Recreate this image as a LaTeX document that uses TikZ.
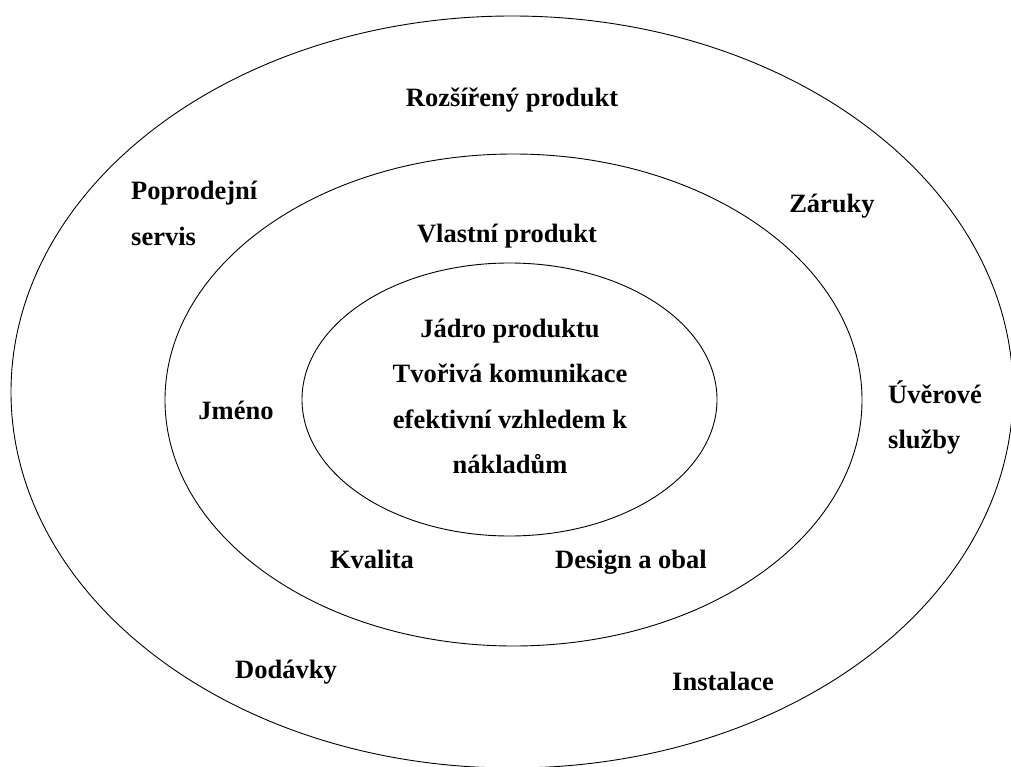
\documentclass[tikz,border=0pt]{standalone}
\usepackage{fontspec}
\setmainfont{Liberation Serif}
\usetikzlibrary{shapes.geometric}
\begin{document}
\begin{tikzpicture}[x=1pt,y=-1pt,
  ring/.style={ellipse,draw=black,line width=0.9pt,inner sep=0pt},
  lbl/.style={anchor=base,inner sep=0pt,font=\fontsize{26.5}{32}\selectfont\bfseries},
  lblw/.style={lbl,anchor=base west}]
\useasboundingbox (0,0) rectangle (1011,767);
% three nested product levels
\node[ring,minimum width=1002pt,minimum height=752pt] (outer) at (512,392) {};
\node[ring,minimum width=697pt,minimum height=492pt] (middle) at (513.5,400) {};
\node[ring,minimum width=415pt,minimum height=273pt] (inner) at (509.5,399.5) {};
% outer ring
\node[lbl] (rozsireny) at (512,107) {Rozšířený produkt};
\node[lblw] (poprodejni) at (131,200) {Poprodejní};
\node[lblw] (servis) at (131,245) {servis};
\node[lbl] (zaruky) at (832,213) {Záruky};
\node[lblw] (uverove) at (888,403) {Úvěrové};
\node[lblw] (sluzby) at (888,448) {služby};
\node[lbl] (dodavky) at (286,678) {Dodávky};
\node[lbl] (instalace) at (723,690) {Instalace};
% middle ring
\node[lbl] (vlastni) at (507,243) {Vlastní produkt};
\node[lbl] (jmeno) at (236,419) {Jméno};
\node[lbl] (kvalita) at (372,568) {Kvalita};
\node[lbl] (design) at (631,568) {Design a obal};
% core
\node[lbl] (jadro) at (510,337) {Jádro produktu};
\node[lbl] (tvoriva) at (510,382) {Tvořivá komunikace};
\node[lbl] (efektivni) at (510,428) {efektivní vzhledem k};
\node[lbl] (naklady) at (510,473) {nákladům};
\end{tikzpicture}
\end{document}
